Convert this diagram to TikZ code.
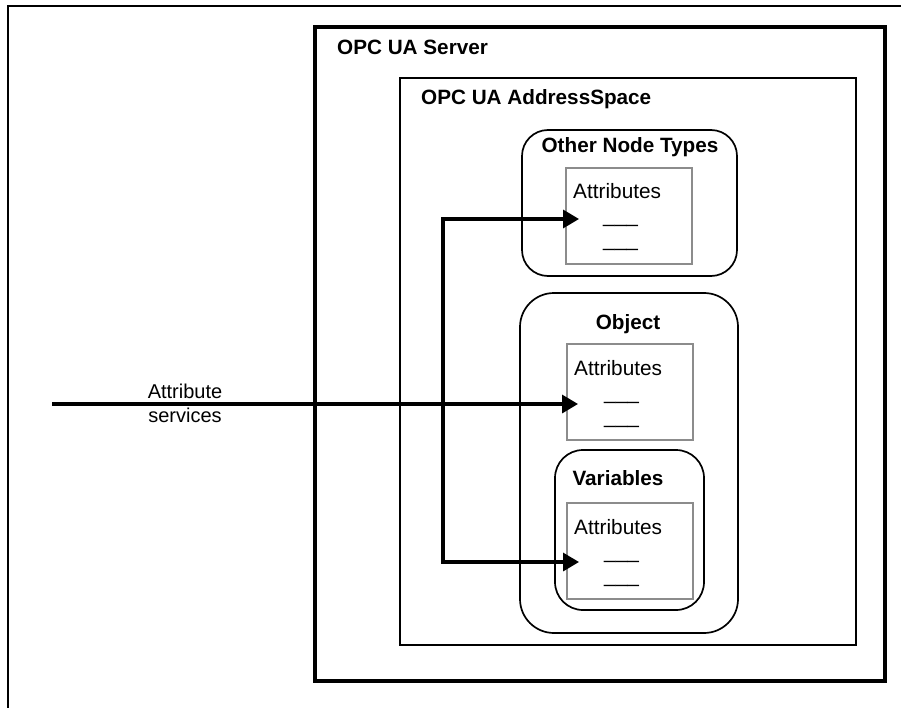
\documentclass[tikz,border=0pt]{standalone}
\usepackage{fontspec}
\setmainfont{Liberation Sans}
\usetikzlibrary{arrows.meta}
\tikzset{
  frameline/.style={line width=2pt, draw=black},
  serverbox/.style={rectangle, draw=black, line width=3.5pt, outer sep=0pt, inner sep=0pt, anchor=north west},
  spacebox/.style={rectangle, draw=black, line width=1.7pt, outer sep=0pt, inner sep=0pt, anchor=north west},
  roundbox/.style={rectangle, rounded corners=#1, draw=black, line width=1.7pt, outer sep=0pt, inner sep=0pt, anchor=north west},
  attrbox/.style={rectangle, draw={rgb,255:red,140;green,140;blue,140}, line width=1.6pt, outer sep=0pt, inner sep=0pt, anchor=north west, minimum width=126pt, minimum height=96pt},
  title/.style={font=\fontsize{20.7}{24}\selectfont\bfseries, inner sep=0pt, anchor=base},
  ltitle/.style={font=\fontsize{20.7}{24}\selectfont\bfseries, inner sep=0pt, anchor=base west},
  txt/.style={font=\fontsize{20.8}{24}\selectfont, inner sep=0pt, anchor=base west},
  ctxt/.style={font=\fontsize{20}{24}\selectfont, inner sep=0pt, anchor=base},
  conn/.style={line width=3.4pt, line join=miter},
  tip/.style={-{Triangle[length=16pt,width=18pt]}}
}
\begin{document}
\begin{tikzpicture}[x=1pt,y=-1pt]
\useasboundingbox (0,0) rectangle (901,708);
\fill[white] (0,0) rectangle (901,708);
% outer frame (clipped at right and bottom)
\coordinate (fbl) at (8,710);
\coordinate (ftl) at (8,6);
\coordinate (ftr) at (903,6);
\draw[frameline] (fbl) -- (ftl) -- (ftr);
% server
\node[serverbox, minimum width=570pt, minimum height=654pt] (server) at (315,27) {};
\node[ltitle] (servert) at (337,55) {OPC UA Server};
% address space
\node[spacebox, minimum width=456pt, minimum height=567pt] (space) at (400,78) {};
\node[ltitle] (spacet) at (421,105) {OPC UA AddressSpace};
% other node types
\node[roundbox=26pt, minimum width=215pt, minimum height=146pt] (other) at (522,130) {};
\node[title] (othert) at (630,153) {Other Node Types};
\node[attrbox] (oattr) at (566,168) {};
\node[txt] (oattrt) at (573,199) {Attributes};
\node[txt] (od1) at (603,223) {\_\_\_};
\node[txt] (od2) at (603,247) {\_\_\_};
% object
\node[roundbox=34pt, minimum width=218pt, minimum height=340pt] (object) at (520,293) {};
\node[title] (objectt) at (628,329) {Object};
\node[attrbox] (battr) at (567,344) {};
\node[txt] (battrt) at (574,375) {Attributes};
\node[txt] (bd1) at (604,399) {\_\_\_};
\node[txt] (bd2) at (604,423) {\_\_\_};
% variables
\node[roundbox=28pt, minimum width=149pt, minimum height=160pt] (vars) at (555,450) {};
\node[title] (varst) at (618,485) {Variables};
\node[attrbox] (vattr) at (567,503) {};
\node[txt] (vattrt) at (574,534) {Attributes};
\node[txt] (vd1) at (604,558) {\_\_\_};
\node[txt] (vd2) at (604,582) {\_\_\_};
% connectors
\coordinate (start) at (52,404);
\coordinate (tipO) at (578,404);
\coordinate (junT) at (443,219);
\coordinate (junB) at (443,562);
\coordinate (tipT) at (579,219);
\coordinate (tipB) at (579,562);
\draw[conn, tip] (start) -- (tipO);
\draw[conn, {Triangle[length=16pt,width=18pt]}-{Triangle[length=16pt,width=18pt]}] (tipT) -- (junT) -- (junB) -- (tipB);
% label
\node[ctxt] (lab1) at (185,398) {Attribute};
\node[ctxt] (lab2) at (185,422) {services};
\end{tikzpicture}
\end{document}
